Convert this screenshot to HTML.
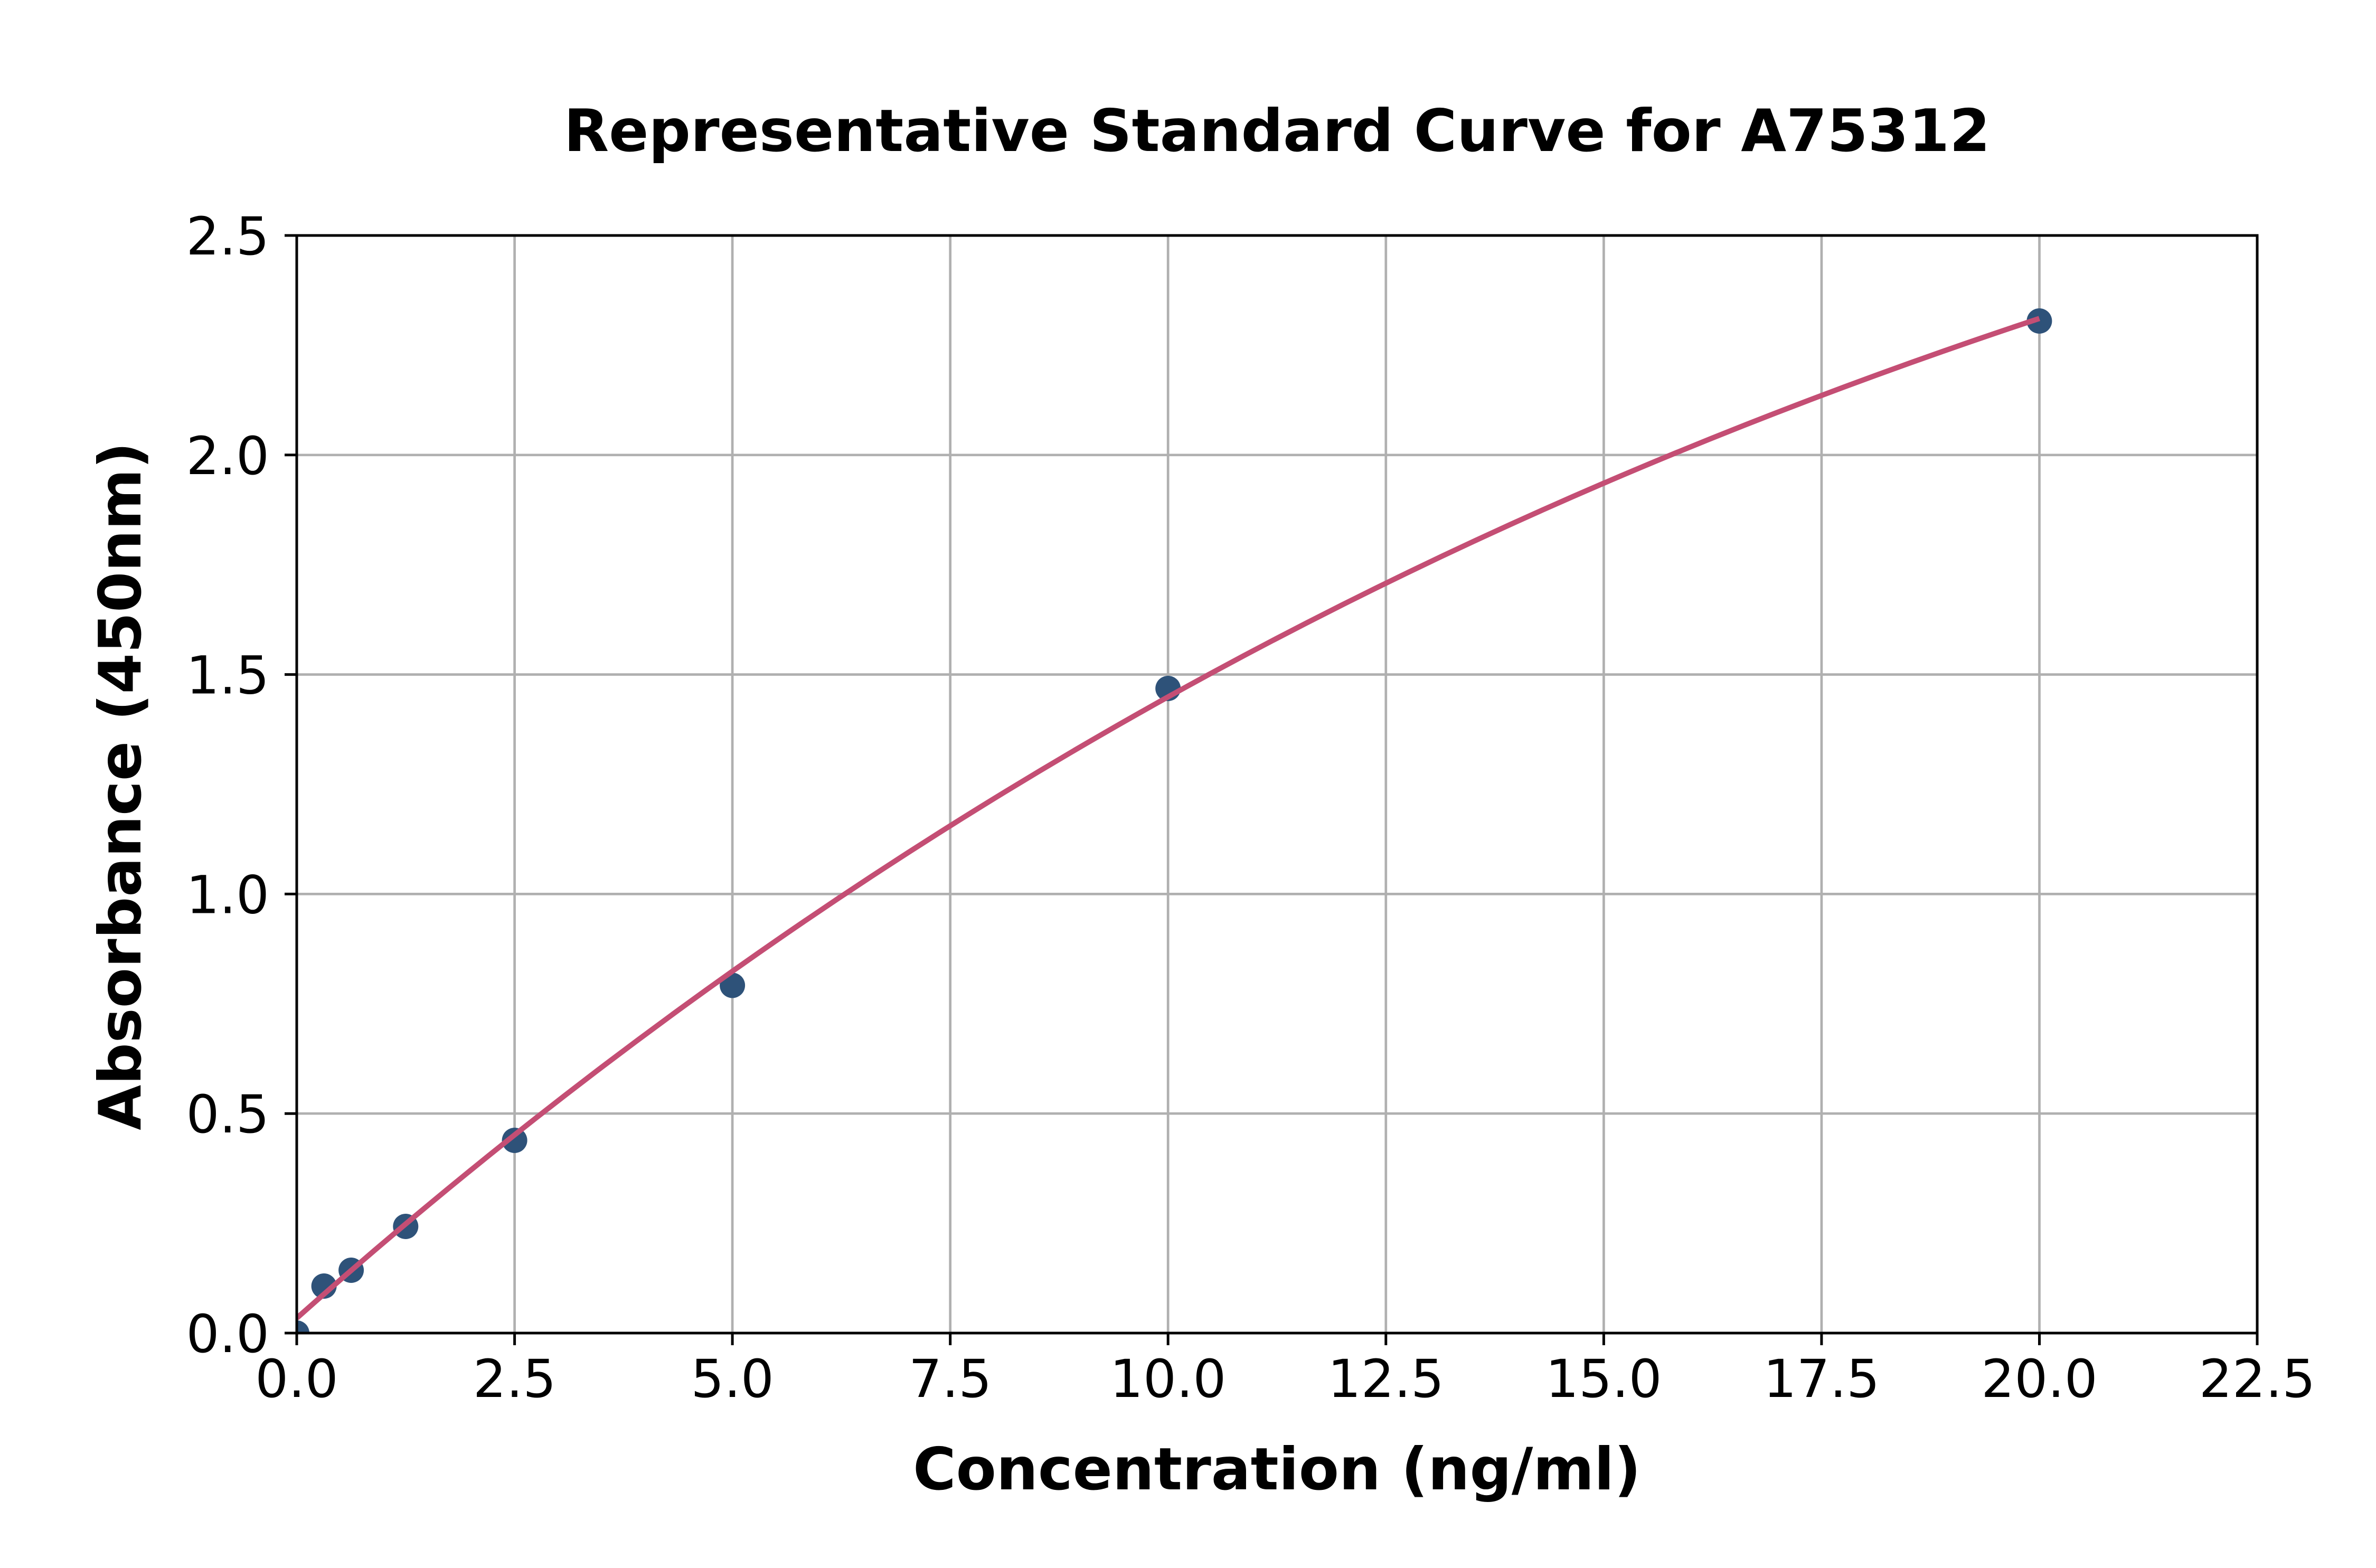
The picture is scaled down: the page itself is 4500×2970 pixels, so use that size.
<!DOCTYPE html>
<html>
<head>
<meta charset="utf-8">
<style>
  html, body { margin: 0; padding: 0; background: #ffffff; }
  body { width: 4500px; height: 2970px; overflow: hidden; }
  svg { display: block; }
  text { font-family: "DejaVu Sans", "Liberation Sans", sans-serif; fill: #000; }
</style>
</head>
<body>
<svg width="4500" height="2970" viewBox="0 0 4500 2970" xmlns="http://www.w3.org/2000/svg">
  <defs>
    <clipPath id="plot">
      <rect x="562" y="446" width="3713" height="2079"/>
    </clipPath>
  </defs>
  <rect x="0" y="0" width="4500" height="2970" fill="#ffffff"/>

  <!-- grid -->
  <g stroke="#b0b0b0" stroke-width="4.7" fill="none">
    <line x1="562" y1="446" x2="562" y2="2525"/>
    <line x1="974.6" y1="446" x2="974.6" y2="2525"/>
    <line x1="1387.1" y1="446" x2="1387.1" y2="2525"/>
    <line x1="1799.7" y1="446" x2="1799.7" y2="2525"/>
    <line x1="2212.2" y1="446" x2="2212.2" y2="2525"/>
    <line x1="2624.8" y1="446" x2="2624.8" y2="2525"/>
    <line x1="3037.4" y1="446" x2="3037.4" y2="2525"/>
    <line x1="3449.9" y1="446" x2="3449.9" y2="2525"/>
    <line x1="3862.5" y1="446" x2="3862.5" y2="2525"/>
    <line x1="4275" y1="446" x2="4275" y2="2525"/>
    <line x1="562" y1="2525" x2="4275" y2="2525"/>
    <line x1="562" y1="2109.2" x2="4275" y2="2109.2"/>
    <line x1="562" y1="1693.4" x2="4275" y2="1693.4"/>
    <line x1="562" y1="1277.6" x2="4275" y2="1277.6"/>
    <line x1="562" y1="861.8" x2="4275" y2="861.8"/>
    <line x1="562" y1="446" x2="4275" y2="446"/>
  </g>

  <!-- data points -->
  <g clip-path="url(#plot)" fill="#2e5279">
    <circle cx="562" cy="2525" r="24"/>
    <circle cx="613.6" cy="2436" r="24"/>
    <circle cx="665.1" cy="2406" r="24"/>
    <circle cx="768.3" cy="2323" r="24"/>
    <circle cx="974.6" cy="2160" r="24"/>
    <circle cx="1387.1" cy="1866.4" r="24"/>
    <circle cx="2212.2" cy="1304" r="24"/>
    <circle cx="3862.4" cy="608" r="24"/>
  </g>

  <!-- fitted curve -->
  <g clip-path="url(#plot)">
    <path d="M562,2496.7 C1662.1,1519.4 2762.3,967.4 3862.4,603.2" fill="none" stroke="#c44e74" stroke-width="10" stroke-linecap="butt"/>
  </g>

  <!-- spines -->
  <rect x="562" y="446" width="3713" height="2079" fill="none" stroke="#000" stroke-width="5"/>

  <!-- ticks -->
  <g stroke="#000" stroke-width="5">
    <line x1="562" y1="2525" x2="562" y2="2548"/>
    <line x1="974.6" y1="2525" x2="974.6" y2="2548"/>
    <line x1="1387.1" y1="2525" x2="1387.1" y2="2548"/>
    <line x1="1799.7" y1="2525" x2="1799.7" y2="2548"/>
    <line x1="2212.2" y1="2525" x2="2212.2" y2="2548"/>
    <line x1="2624.8" y1="2525" x2="2624.8" y2="2548"/>
    <line x1="3037.4" y1="2525" x2="3037.4" y2="2548"/>
    <line x1="3449.9" y1="2525" x2="3449.9" y2="2548"/>
    <line x1="3862.5" y1="2525" x2="3862.5" y2="2548"/>
    <line x1="4275" y1="2525" x2="4275" y2="2548"/>
    <line x1="539" y1="2525" x2="562" y2="2525"/>
    <line x1="539" y1="2109.2" x2="562" y2="2109.2"/>
    <line x1="539" y1="1693.4" x2="562" y2="1693.4"/>
    <line x1="539" y1="1277.6" x2="562" y2="1277.6"/>
    <line x1="539" y1="861.8" x2="562" y2="861.8"/>
    <line x1="539" y1="446" x2="562" y2="446"/>
  </g>

  <!-- x tick labels -->
  <g font-size="99" text-anchor="middle">
    <text x="562" y="2646">0.0</text>
    <text x="974.6" y="2646">2.5</text>
    <text x="1387.1" y="2646">5.0</text>
    <text x="1799.7" y="2646">7.5</text>
    <text x="2212.2" y="2646">10.0</text>
    <text x="2624.8" y="2646">12.5</text>
    <text x="3037.4" y="2646">15.0</text>
    <text x="3449.9" y="2646">17.5</text>
    <text x="3862.5" y="2646">20.0</text>
    <text x="4275" y="2646">22.5</text>
  </g>

  <!-- y tick labels -->
  <g font-size="99" text-anchor="end">
    <text x="510" y="2561">0.0</text>
    <text x="510" y="2145.2">0.5</text>
    <text x="510" y="1729.4">1.0</text>
    <text x="510" y="1313.6">1.5</text>
    <text x="510" y="897.8">2.0</text>
    <text x="510" y="482">2.5</text>
  </g>

  <!-- title and axis labels -->
  <text x="2418.5" y="286" font-size="111" font-weight="bold" text-anchor="middle">Representative Standard Curve for A75312</text>
  <text x="2418.5" y="2821" font-size="111" font-weight="bold" text-anchor="middle">Concentration (ng/ml)</text>
  <text x="0" y="0" font-size="111" font-weight="bold" text-anchor="middle" transform="translate(266,1489) rotate(-90)">Absorbance (450nm)</text>
</svg>
</body>
</html>
